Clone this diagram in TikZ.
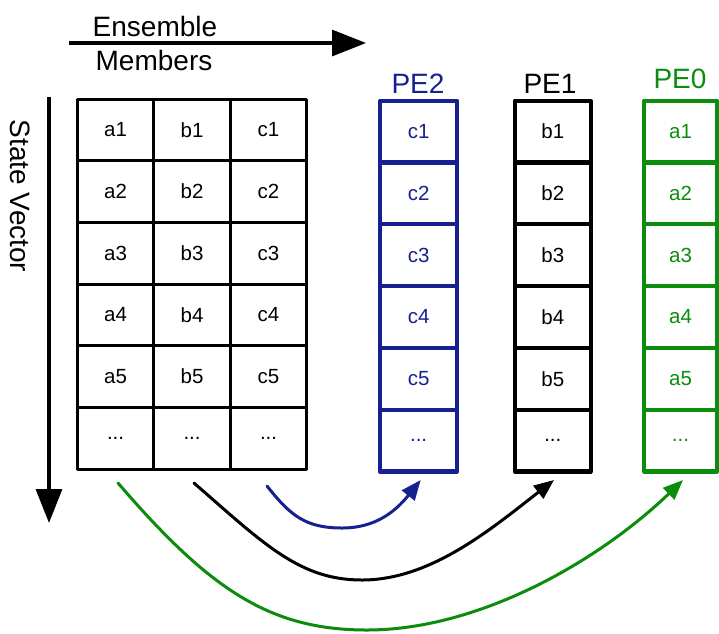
\documentclass[tikz,border=0pt]{standalone}
\usepackage{fontspec}
\setmainfont{Liberation Sans}
\usetikzlibrary{arrows.meta}
\definecolor{peblue}{RGB}{22,32,142}
\definecolor{pegreen}{RGB}{12,140,12}
\begin{document}
\begin{tikzpicture}[x=1pt,y=-1pt,
  cell/.style={draw=black, line width=3pt, minimum width=76.5pt, minimum height=61.67pt,
    inner sep=0pt, outer sep=0pt, font=\fontsize{20.5}{24}\selectfont, line join=round},
  pecell/.style={draw=#1, text=#1, line width=4.2pt, minimum height=61.8pt,
    inner sep=0pt, outer sep=0pt, font=\fontsize{20.5}{24}\selectfont, line join=round},
  lbl/.style={font=\fontsize{28}{32}\selectfont, inner sep=0pt, anchor=base},
  axis/.style={line width=3.2pt, -{Triangle[length=34pt,width=26pt]}},
  conn/.style={line width=3pt, line cap=round, -{Triangle[length=20pt,width=16pt]}}
]
\useasboundingbox (0,0) rectangle (719,633);

% axis labels
\node[lbl] (ens) at (155,36) {Ensemble};
\node[lbl] (mem) at (154,70) {Members};
\coordinate (h0) at (69,43);
\coordinate (h1) at (366,43);
\draw[axis] (h0) -- (h1);
\node[font=\fontsize{28}{32}\selectfont, inner sep=0pt, rotate=-90] (sv) at (20,196) {State Vector};
\coordinate (v0) at (49,97);
\coordinate (v1) at (49,523);
\draw[axis] (v0) -- (v1);

% main grid
\foreach \c/\l in {1/a,2/b,3/c}{
  \foreach \r in {1,...,5}{
    \node[cell] (g-\r-\c) at ({77.3+76.5*(\c-0.5)},{99+61.67*(\r-0.5)}) {\l\r};
  }
  \node[cell] (g-6-\c) at ({77.3+76.5*(\c-0.5)},{99+61.67*5.5}) {...};
}

% PE columns
\foreach \r in {1,...,5}{
  \node[pecell=peblue, minimum width=77.3pt] (p2-\r) at (418.6,{100.7+61.8*(\r-0.5)}) {c\r};
  \node[pecell=black, minimum width=75.7pt] (p1-\r) at (552.8,{100.7+61.8*(\r-0.5)}) {b\r};
  \node[pecell=pegreen, minimum width=73pt] (p0-\r) at (680.5,{100.7+61.8*(\r-0.5)}) {a\r};
}
\node[pecell=peblue, minimum width=77.3pt] (p2-6) at (418.6,{100.7+61.8*5.5}) {...};
\node[pecell=black, minimum width=75.7pt] (p1-6) at (552.8,{100.7+61.8*5.5}) {...};
\node[pecell=pegreen, minimum width=73pt] (p0-6) at (680.5,{100.7+61.8*5.5}) {...};

\node[lbl, text=peblue] (l2) at (418,93) {PE2};
\node[lbl] (l1) at (550,93) {PE1};
\node[lbl, text=pegreen] (l0) at (680,88) {PE0};

% connectors
\coordinate (bS) at (267,486);
\coordinate (bE) at (420.7,480);
\coordinate (kS) at (194,483);
\coordinate (kE) at (554,480);
\coordinate (gS) at (118,483);
\coordinate (gE) at (683,480);
\draw[conn, peblue] (bS) .. controls (290,515) and (305,528) .. (342,528)
  .. controls (375,528) and (395,512) .. (bE);
\draw[conn, black] (kS) .. controls (265,545) and (300,580) .. (362,580)
  .. controls (430,580) and (490,530) .. (kE);
\draw[conn, pegreen] (gS) .. controls (210,590) and (270,630) .. (367,630)
  .. controls (480,630) and (600,560) .. (gE);
\end{tikzpicture}
\end{document}
